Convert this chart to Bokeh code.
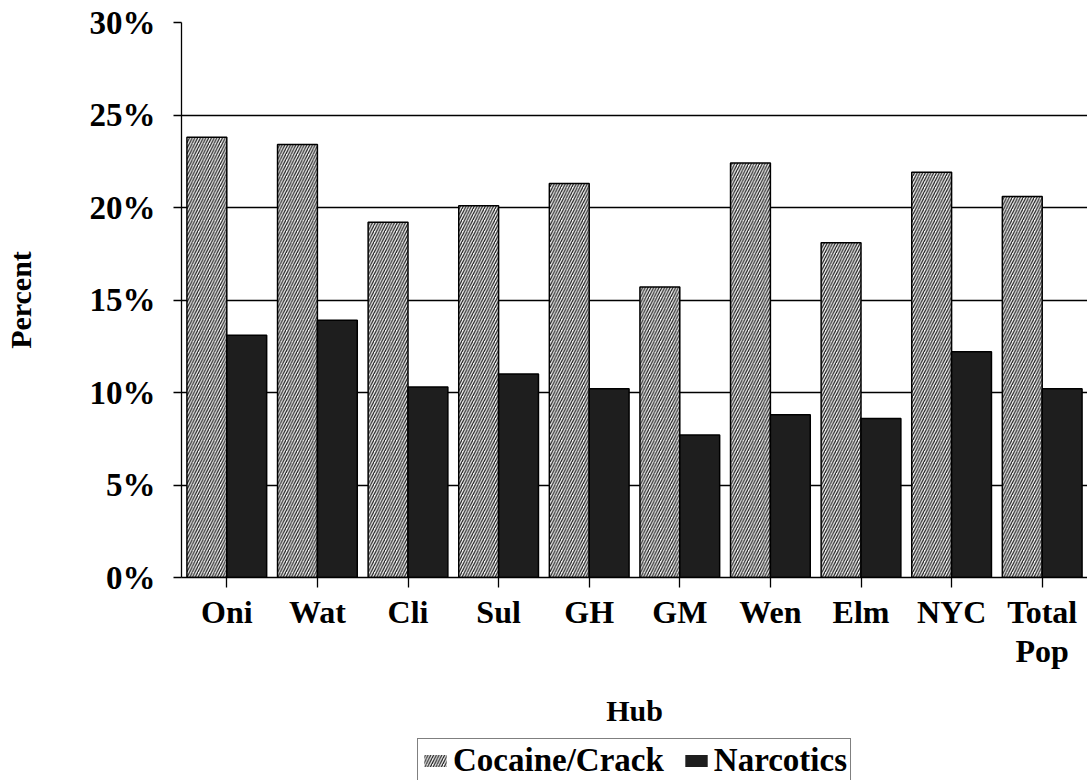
from bokeh.plotting import figure
from bokeh.layouts import column
from bokeh.models import (ColumnDataSource, Range1d, Legend, LegendItem,
                          PrintfTickFormatter, FixedTicker, LinearAxis)
from bokeh.transform import dodge
from bokeh.embed import file_html
from bokeh.resources import INLINE

hubs = ["Oni", "Wat", "Cli", "Sul", "GH", "GM", "Wen", "Elm", "NYC", "Total Pop"]
label_line1 = ["Oni", "Wat", "Cli", "Sul", "GH", "GM", "Wen", "Elm", "NYC", "Total"]
label_line2 = ["", "", "", "", "", "", "", "", "", "Pop"]
cocaine = [23.8, 23.4, 19.2, 20.1, 21.3, 15.7, 22.4, 18.1, 21.9, 20.6]
narcotics = [13.1, 13.9, 10.3, 11.0, 10.2, 7.7, 8.8, 8.6, 12.2, 10.2]
y_ticks = [0, 5, 10, 15, 20, 25, 30]

pos = list(range(len(hubs)))
src = ColumnDataSource(dict(pos=pos, hub=hubs, cocaine=cocaine, narcotics=narcotics))

FONT = "Liberation Serif"
BAR_W = 0.44
OFF = 0.22
LEFT = 181

p = figure(
    x_range=Range1d(-0.5, len(hubs) - 0.5),
    y_range=Range1d(0, 30),
    width=1087, height=736,
    output_backend="svg", toolbar_location=None,
    min_border_left=LEFT, min_border_right=0,
    min_border_top=22, min_border_bottom=159,
)
p.outline_line_color = None
p.background_fill_color = "white"
p.border_fill_color = "white"

coc_fill = dict(fill_color="#f4f4f4", hatch_pattern="/", hatch_color="#1a1a1a",
                hatch_scale=5.5, hatch_weight=1.2)
nar_fill = dict(fill_color="#1e1e1e")

r1 = p.vbar(x=dodge("pos", -OFF), top="cocaine", width=BAR_W, source=src,
            line_color="black", line_width=1.5, **coc_fill)
r2 = p.vbar(x=dodge("pos", OFF), top="narcotics", width=BAR_W, source=src,
            line_color="black", line_width=1.5, **nar_fill)

# grid
p.xgrid.grid_line_color = None
p.ygrid.ticker = FixedTicker(ticks=y_ticks)
p.ygrid.grid_line_color = "black"
p.ygrid.grid_line_width = 1.3
p.ygrid.grid_line_alpha = 1.0

# y axis
p.yaxis.ticker = FixedTicker(ticks=y_ticks)
p.yaxis.formatter = PrintfTickFormatter(format="%d%%")
p.yaxis.axis_label = "Percent"
p.yaxis.axis_label_text_font = FONT
p.yaxis.axis_label_text_font_style = "bold"
p.yaxis.axis_label_text_font_size = "30px"
p.yaxis.axis_label_text_color = "black"
p.yaxis.axis_label_standoff = 50
p.yaxis.major_label_text_font = FONT
p.yaxis.major_label_text_font_style = "bold"
p.yaxis.major_label_text_font_size = "33px"
p.yaxis.major_label_text_color = "black"
p.yaxis.major_label_standoff = 18
p.yaxis.major_tick_out = 8
p.yaxis.major_tick_in = 0
p.yaxis.minor_tick_line_color = None
p.yaxis.axis_line_color = "black"
p.yaxis.axis_line_width = 1.3
p.yaxis.major_tick_line_color = "black"
p.yaxis.major_tick_line_width = 1.3

# x axis (first line of labels)
xa = p.xaxis[0]
xa.ticker = FixedTicker(ticks=pos)
xa.major_label_overrides = {i: t for i, t in zip(pos, label_line1)}
xa.minor_tick_line_color = None
xa.major_label_text_font = FONT
xa.major_label_text_font_style = "bold"
xa.major_label_text_font_size = "32px"
xa.major_label_text_color = "black"
xa.major_label_standoff = 6
xa.major_tick_out = 10
xa.major_tick_in = 0
xa.axis_line_color = "black"
xa.axis_line_width = 1.3
xa.major_tick_line_color = "black"
xa.major_tick_line_width = 1.3

# second line of x labels + axis title
xb = LinearAxis(
    ticker=FixedTicker(ticks=pos),
    major_label_overrides={i: t for i, t in zip(pos, label_line2)},
    major_label_text_font=FONT, major_label_text_font_style="bold",
    major_label_text_font_size="32px", major_label_text_color="black",
    major_label_standoff=0, major_tick_out=0, major_tick_in=0,
    major_tick_line_color=None, minor_tick_line_color=None, axis_line_color=None,
    axis_label="Hub", axis_label_text_font=FONT, axis_label_text_font_style="bold",
    axis_label_text_font_size="30px", axis_label_text_color="black",
    axis_label_standoff=22,
)
p.add_layout(xb, "below")

# legend strip below the chart: same bars, but its y range lies far above them,
# so only the legend swatches are visible
lg = figure(
    x_range=Range1d(-0.5, len(hubs) - 0.5), y_range=Range1d(60, 90),
    width=1087, height=44,
    output_backend="svg", toolbar_location=None,
    x_axis_location=None, y_axis_location=None,
    min_border_left=LEFT, min_border_right=0, min_border_top=0, min_border_bottom=0,
)
lg.outline_line_color = None
lg.grid.grid_line_color = None
lg.background_fill_color = "white"
lr1 = lg.vbar(x=dodge("pos", -OFF), top="cocaine", width=BAR_W, source=src,
              line_color=None, **coc_fill)
lr2 = lg.vbar(x=dodge("pos", OFF), top="narcotics", width=BAR_W, source=src,
              line_color=None, **nar_fill)

legend = Legend(
    items=[LegendItem(label="Cocaine/Crack", renderers=[lr1]),
           LegendItem(label="Narcotics", renderers=[lr2])],
    orientation="horizontal",
    location="top_center",
    label_text_font=FONT, label_text_font_style="bold",
    label_text_font_size="33px", label_text_color="black",
    glyph_width=28, glyph_height=15, label_standoff=4, spacing=18,
    padding=3, margin=2,
    border_line_color="black", border_line_width=1.3,
    background_fill_color="white", background_fill_alpha=1.0,
)
lg.add_layout(legend, "center")

layout = column(p, lg, spacing=0)
open("out.html", "w").write(file_html(layout, INLINE))
